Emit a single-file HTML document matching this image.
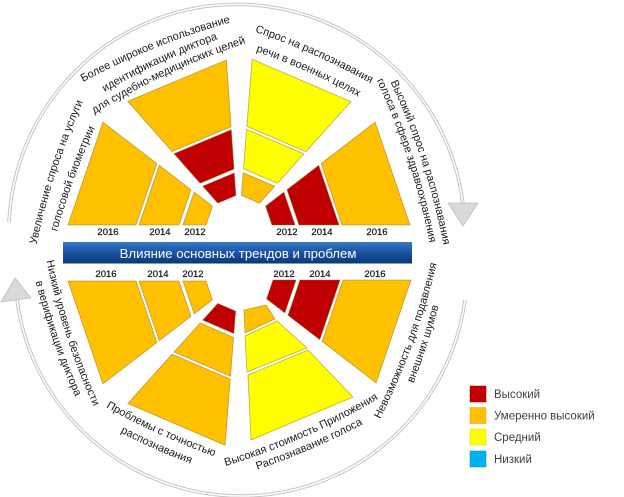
<!DOCTYPE html>
<html>
<head>
<meta charset="utf-8">
<style>
html,body{margin:0;padding:0;background:#fff;}
svg{display:block;}
.lbl{font-family:"Liberation Sans","DejaVu Sans",sans-serif;font-size:11px;fill:#1a1a1a;}
.yr{font-family:"Liberation Sans","DejaVu Sans",sans-serif;font-size:9.5px;fill:#1a1a1a;stroke:#1a1a1a;stroke-width:0.25;text-anchor:middle;}
.lg{font-family:"Liberation Sans","DejaVu Sans",sans-serif;font-size:11.5px;fill:#404040;}
.o{fill:#FFC000;}
.r{fill:#C00000;}
.y{fill:#FFFF00;}
.poly polygon{stroke:#8a6a1a;stroke-opacity:0.55;stroke-width:0.8;vector-effect:non-scaling-stroke;}
</style>
</head>
<body>
<svg width="624" height="497" viewBox="0 0 624 497" xmlns="http://www.w3.org/2000/svg">
<defs>
  <linearGradient id="bg" x1="0" y1="0" x2="0" y2="1">
    <stop offset="0" stop-color="#3b78c8"/>
    <stop offset="0.45" stop-color="#1b56a6"/>
    <stop offset="1" stop-color="#0a3677"/>
  </linearGradient>
  <path id="pU" d="M -120 10.36 A 700 700 0 0 1 120 10.36"/>
  <path id="pD" d="M -120 -10.36 A 700 700 0 0 0 120 -10.36"/>
</defs>

<!-- outer arcs -->
<path d="M 9 222 A 228 228 0 0 1 463 204" fill="none" stroke="#c4c4c4" stroke-width="3.5"/>
<path d="M 9 222 A 228 228 0 0 1 463 204" fill="none" stroke="#ffffff" stroke-width="1.5"/>
<polygon points="448,203 478,203 463,226" fill="#d9d9d9" stroke="#bdbdbd" stroke-width="0.8"/>

<path d="M 465 300 A 226 226 0 0 1 17 300" fill="none" stroke="#c4c4c4" stroke-width="3.5"/>
<path d="M 465 300 A 226 226 0 0 1 17 300" fill="none" stroke="#ffffff" stroke-width="1.5"/>
<polygon points="1,302 31,298 15,278" fill="#d9d9d9" stroke="#bdbdbd" stroke-width="0.8"/>

<g class="poly">
  <!-- A: top-left -->
  <g transform="translate(237,225) rotate(-142.5)">
    <polygon class="o" points="31,0 54,0 42.84,-32.87 24.59,-18.87"/>
    <polygon class="o" points="58,0 98,0 77.75,-59.66 46.01,-35.31"/>
    <polygon class="o" points="101,0 169,0 134.08,-102.88 80.13,-61.48"/>
  </g>
  <!-- B -->
  <g transform="translate(238,226) rotate(-94) scale(0.985)">
    <polygon class="r" points="31,0 54,0 42.84,-32.87 24.59,-18.87"/>
    <polygon class="r" points="58,0 98,0 77.75,-59.66 46.01,-35.31"/>
    <polygon class="o" points="101,0 169,0 134.08,-102.88 80.13,-61.48"/>
  </g>
  <!-- C -->
  <g transform="translate(239,226) rotate(-48) scale(0.99)">
    <polygon class="o" points="31,0 54,0 42.84,-32.87 24.59,-18.87"/>
    <polygon class="y" points="58,0 98,0 77.75,-59.66 46.01,-35.31"/>
    <polygon class="y" points="101,0 169,0 134.08,-102.88 80.13,-61.48"/>
  </g>
  <!-- D -->
  <g transform="translate(241,225)">
    <polygon class="r" points="31,0 54,0 42.84,-32.87 24.59,-18.87"/>
    <polygon class="r" points="58,0 98,0 77.75,-59.66 46.01,-35.31"/>
    <polygon class="o" points="101,0 169,0 134.08,-102.88 80.13,-61.48"/>
  </g>
  <!-- E -->
  <g transform="translate(237,281) rotate(180)">
    <polygon class="o" points="31,0 54,0 42.84,-32.87 24.59,-18.87"/>
    <polygon class="o" points="58,0 98,0 77.75,-59.66 46.01,-35.31"/>
    <polygon class="o" points="101,0 169,0 134.08,-102.88 80.13,-61.48"/>
  </g>
  <!-- F -->
  <g transform="translate(238,281) rotate(132) scale(0.975)">
    <polygon class="r" points="31,0 54,0 42.84,-32.87 24.59,-18.87"/>
    <polygon class="o" points="58,0 98,0 77.75,-59.66 46.01,-35.31"/>
    <polygon class="o" points="101,0 169,0 134.08,-102.88 80.13,-61.48"/>
  </g>
  <!-- G -->
  <polygon class="o" points="244,310 266,305 275,319 245,333"/>
  <polygon class="y" points="245,336 277,321 307,348 247,372"/>
  <polygon class="y" points="248,375 308,350 353,397 251,440"/>
  <!-- H -->
  <g transform="translate(242,280) rotate(37.5)">
    <polygon class="r" points="31,0 54,0 42.84,-32.87 24.59,-18.87"/>
    <polygon class="r" points="58,0 98,0 77.75,-59.66 46.01,-35.31"/>
    <polygon class="o" points="101,0 169,0 134.08,-102.88 80.13,-61.48"/>
  </g>
</g>

<!-- banner -->
<rect x="63" y="242" width="349" height="21.5" fill="url(#bg)"/>
<text x="238" y="258" font-family="Liberation Sans, DejaVu Sans, sans-serif" font-size="13.2" fill="#ffffff" text-anchor="middle">Влияние основных трендов и проблем</text>

<!-- year labels -->
<text class="yr" x="108" y="235">2016</text>
<text class="yr" x="160" y="235">2014</text>
<text class="yr" x="195" y="235">2012</text>
<text class="yr" x="287" y="235">2012</text>
<text class="yr" x="322" y="235">2014</text>
<text class="yr" x="377" y="235">2016</text>

<text class="yr" x="106" y="277">2016</text>
<text class="yr" x="158" y="277">2014</text>
<text class="yr" x="193" y="277">2012</text>
<text class="yr" x="284" y="277">2012</text>
<text class="yr" x="320" y="277">2014</text>
<text class="yr" x="375" y="277">2016</text>

<!-- curved labels: top half -->
<g transform="translate(56,172) rotate(-72)"><text class="lbl"><textPath href="#pU" startOffset="50%" text-anchor="middle">Увеличение спроса на услуги</textPath></text></g>
<g transform="translate(74,179) rotate(-70)"><text class="lbl"><textPath href="#pU" startOffset="50%" text-anchor="middle">голосовой биометрии</textPath></text></g>

<g transform="translate(155,48) rotate(-22)"><text class="lbl"><textPath href="#pU" startOffset="50%" text-anchor="middle">Более широкое использование</textPath></text></g>
<g transform="translate(160,63) rotate(-25)"><text class="lbl"><textPath href="#pU" startOffset="50%" text-anchor="middle">идентификации диктора</textPath></text></g>
<g transform="translate(168,74) rotate(-25)"><text class="lbl"><textPath href="#pU" startOffset="50%" text-anchor="middle">для судебно-медицинских целей</textPath></text></g>

<g transform="translate(314,55) rotate(24)"><text class="lbl"><textPath href="#pU" startOffset="50%" text-anchor="middle">Спрос на распознавания</textPath></text></g>
<g transform="translate(308,72) rotate(24)"><text class="lbl"><textPath href="#pU" startOffset="50%" text-anchor="middle">речи в военных целях</textPath></text></g>

<g transform="translate(422,162) rotate(72)"><text class="lbl"><textPath href="#pU" startOffset="50%" text-anchor="middle">Высокий спрос на распознавания</textPath></text></g>
<g transform="translate(408,160) rotate(72)"><text class="lbl"><textPath href="#pU" startOffset="50%" text-anchor="middle">голоса в сфере здравоохранения</textPath></text></g>

<!-- curved labels: bottom half -->
<g transform="translate(66,335) rotate(72)"><text class="lbl"><textPath href="#pD" startOffset="50%" text-anchor="middle">Низкий уровень безопасности</textPath></text></g>
<g transform="translate(53,340) rotate(71)"><text class="lbl"><textPath href="#pD" startOffset="50%" text-anchor="middle">в верификации диктора</textPath></text></g>

<g transform="translate(159,434) rotate(24.4)"><text class="lbl"><textPath href="#pD" startOffset="50%" text-anchor="middle">Проблемы с точностью</textPath></text></g>
<g transform="translate(155,449) rotate(24)"><text class="lbl"><textPath href="#pD" startOffset="50%" text-anchor="middle">распознавания</textPath></text></g>

<g transform="translate(304,437) rotate(-23.7)"><text class="lbl"><textPath href="#pD" startOffset="50%" text-anchor="middle">Высокая стоимость Приложения</textPath></text></g>
<g transform="translate(311,449) rotate(-23.3)"><text class="lbl"><textPath href="#pD" startOffset="50%" text-anchor="middle">Распознавание голоса</textPath></text></g>

<g transform="translate(413,343) rotate(-70)"><text class="lbl"><textPath href="#pD" startOffset="50%" text-anchor="middle">Невозможность для подавления</textPath></text></g>
<g transform="translate(427,345) rotate(-72)"><text class="lbl"><textPath href="#pD" startOffset="50%" text-anchor="middle">внешних шумов</textPath></text></g>

<!-- legend -->
<rect x="470" y="386" width="16" height="16" fill="#C00000" stroke="#a00000" stroke-width="0.5"/>
<rect x="470" y="407.5" width="16" height="16" fill="#FFC000" stroke="#d9a200" stroke-width="0.5"/>
<rect x="470" y="429" width="16" height="16" fill="#FFFF00" stroke="#d8d800" stroke-width="0.5"/>
<rect x="470" y="451" width="16" height="16" fill="#00B0F0" stroke="#0095cc" stroke-width="0.5"/>
<text class="lg" x="494" y="398">Высокий</text>
<text class="lg" x="494" y="419.5">Умеренно высокий</text>
<text class="lg" x="494" y="441">Средний</text>
<text class="lg" x="494" y="463">Низкий</text>
</svg>
</body>
</html>
